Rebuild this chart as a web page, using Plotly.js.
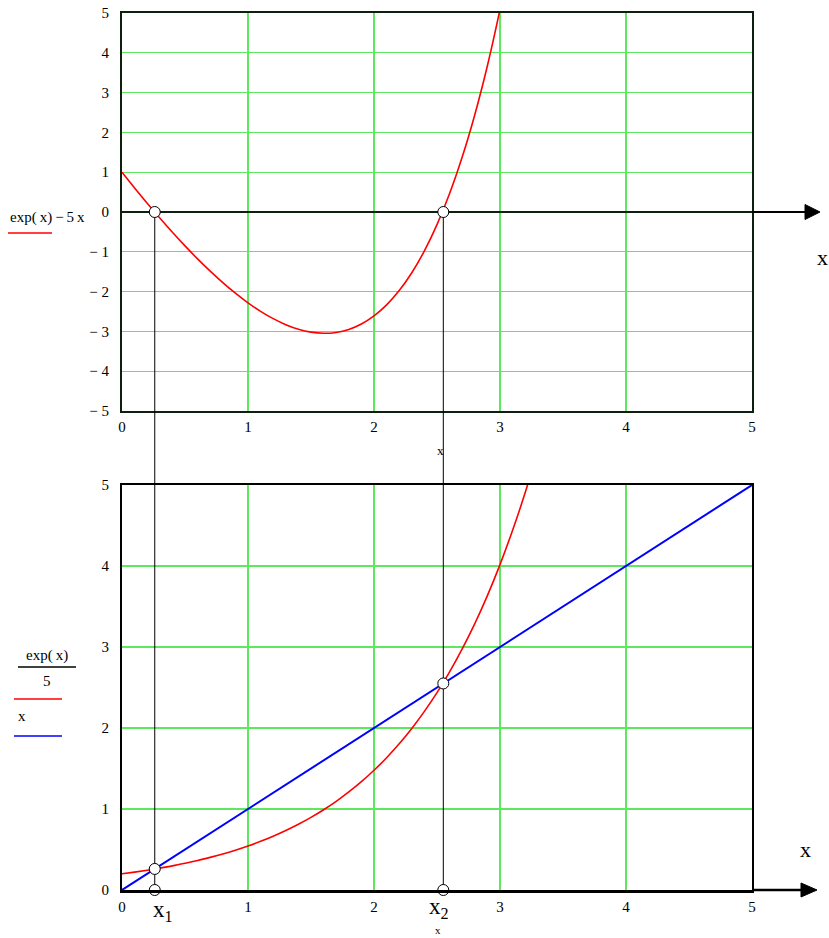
<!DOCTYPE html>
<html><head><meta charset="utf-8">
<script src="https://cdn.plot.ly/plotly-3.0.1.min.js"></script>
<style>html,body{margin:0;padding:0;background:#fff}#c{width:829px;height:938px}</style>
</head><body><div id="c"></div>
<script>
// sampled x values
const xs = [0,0.1,0.2,0.3,0.4,0.5,0.6,0.7,0.8,0.9,1.0,1.1,1.2,1.3,1.4,1.5,1.6,1.7,1.8,1.9,2.0,2.1,2.2,2.3,2.4,2.5,2.6,2.7,2.8,2.9,3.0];
// top panel: exp(x)-5x
const topVals = [1.0,0.605,0.221,-0.150,-0.508,-0.851,-1.178,-1.486,-1.774,-2.040,-2.282,-2.496,-2.680,-2.831,-2.945,-3.018,-3.047,-3.026,-2.950,-2.814,-2.611,-2.334,-1.975,-1.526,-0.977,-0.318,0.464,1.380,2.445,3.674,5.086];
// bottom panel: exp(x)/5
const xsBottom = [0,0.1,0.2,0.3,0.4,0.5,0.6,0.7,0.8,0.9,1.0,1.1,1.2,1.3,1.4,1.5,1.6,1.7,1.8,1.9,2.0,2.1,2.2,2.3,2.4,2.5,2.6,2.7,2.8,2.9,3.0,3.1,3.2,3.3];
const expOver5 = [0.2,0.221,0.244,0.270,0.298,0.330,0.364,0.403,0.445,0.492,0.544,0.601,0.664,0.734,0.811,0.896,0.991,1.095,1.210,1.337,1.478,1.633,1.805,1.995,2.205,2.436,2.693,2.976,3.289,3.635,4.017,4.440,4.907,5.423];
// bottom panel: y = x
const lineX = [0,5];
const lineY = [0,5];
// roots
const roots = [0.26,2.55];
const zeros = [0,0];
// tick labels
const yTopVals = [-5,-4,-3,-2,-1,0,1,2,3,4,5];
const yTopText = ['\u2212 5','\u2212 4','\u2212 3','\u2212 2','\u2212 1','0','1','2','3','4','5'];
const xTickVals = [0,1,2,3,4,5];
const xTickText = ['0','1','2','3','4','5'];
const yBotVals = [0,1,2,3,4,5];
const yBotText = ['0','1','2','3','4','5'];

const W = 829, H = 938;
const px = v => v / W;
const py = v => 1 - v / H;
const serif = 'Liberation Serif';
const green = '#5ee85e';
const frameTop = '#0d200d';

const traces = [];
// vertical guide lines (black)
roots.forEach(r => {
  traces.push({x:[r,r], y:[0,-5], xaxis:'x', yaxis:'y', mode:'lines', line:{color:'#000', width:1}, hoverinfo:'skip', showlegend:false, cliponaxis:false});
  traces.push({x:[r,r], y:[5,0], xaxis:'x2', yaxis:'y2', mode:'lines', line:{color:'#000', width:1}, hoverinfo:'skip', showlegend:false, cliponaxis:false});
});
traces.push({x:xs, y:topVals, xaxis:'x', yaxis:'y', mode:'lines', line:{color:'#ff0000', width:1.6, shape:'spline'}, showlegend:false});
traces.push({x:xsBottom, y:expOver5, xaxis:'x2', yaxis:'y2', mode:'lines', line:{color:'#ff0000', width:1.6, shape:'spline'}, showlegend:false});
traces.push({x:lineX, y:lineY, xaxis:'x2', yaxis:'y2', mode:'lines', line:{color:'#0000ff', width:2}, showlegend:false});
const mk = {symbol:'circle', size:11, color:'#fff', line:{color:'#000', width:1}};
traces.push({x:roots, y:zeros, xaxis:'x', yaxis:'y', mode:'markers', marker:mk, showlegend:false, cliponaxis:false});
traces.push({x:roots, y:roots, xaxis:'x2', yaxis:'y2', mode:'markers', marker:mk, showlegend:false, cliponaxis:false});
traces.push({x:roots, y:zeros, xaxis:'x2', yaxis:'y2', mode:'markers', marker:mk, showlegend:false, cliponaxis:false});

const tickFont = {family:serif, size:15, color:'#000'};
const axBase = {showgrid:true, gridcolor:green, gridwidth:1.2, showline:true, mirror:true, linewidth:2, zeroline:false, ticks:'outside', tickcolor:'rgba(0,0,0,0)', tickfont:tickFont, fixedrange:true};

const ann = (text, x, y, size) => ({text, x:px(x), y:py(y), xref:'paper', yref:'paper', xanchor:'center', yanchor:'middle', showarrow:false, font:{family:serif, size, color:'#000'}});

const layout = {
  width:W, height:H, margin:{l:0,r:0,t:0,b:0}, paper_bgcolor:'#fff', plot_bgcolor:'#fff',
  showlegend:false,
  xaxis: Object.assign({}, axBase, {domain:[px(122), px(752)], range:[0,5], anchor:'y', tickvals:xTickVals, ticktext:xTickText, ticklen:1, linecolor:frameTop}),
  yaxis: Object.assign({}, axBase, {domain:[py(411), py(13)], range:[-5,5], anchor:'x', tickvals:yTopVals, ticktext:yTopText, ticklen:8, linecolor:frameTop, zeroline:true, zerolinecolor:frameTop, zerolinewidth:2}),
  xaxis2: Object.assign({}, axBase, {domain:[px(122), px(752)], range:[0,5], anchor:'y2', tickvals:xTickVals, ticktext:xTickText, ticklen:1, linecolor:'#000', linewidth:2.5}),
  yaxis2: Object.assign({}, axBase, {domain:[py(890), py(485)], range:[0,5], anchor:'x2', tickvals:yBotVals, ticktext:yBotText, ticklen:8, linecolor:'#000'}),
  shapes: [
    // guide lines in the gap between panels
    ...roots.map(r => ({type:'line', xref:'x', yref:'paper', x0:r, x1:r, y0:py(485), y1:py(411), line:{color:'#000', width:1}})),
    // top arrow
    {type:'line', xref:'paper', yref:'paper', x0:px(752), x1:px(806), y0:py(212), y1:py(212), line:{color:'#000', width:2}},
    {type:'path', xref:'paper', yref:'paper', path:`M ${px(805)} ${py(204.5)} L ${px(820)} ${py(212)} L ${px(805)} ${py(219.5)} Z`, fillcolor:'#000', line:{color:'#000', width:1}},
    // bottom arrow
    {type:'line', xref:'paper', yref:'paper', x0:px(752), x1:px(802), y0:py(890), y1:py(890), line:{color:'#000', width:2.5}},
    {type:'path', xref:'paper', yref:'paper', path:`M ${px(801)} ${py(883)} L ${px(817)} ${py(890)} L ${px(801)} ${py(897)} Z`, fillcolor:'#000', line:{color:'#000', width:1}},
    // legend swatches
    {type:'line', xref:'paper', yref:'paper', x0:px(8), x1:px(52), y0:py(233), y1:py(233), line:{color:'#ff0000', width:1.5}},
    {type:'line', xref:'paper', yref:'paper', x0:px(18), x1:px(76), y0:py(667), y1:py(667), line:{color:'#000', width:1.5}},
    {type:'line', xref:'paper', yref:'paper', x0:px(14), x1:px(62), y0:py(699), y1:py(699), line:{color:'#ff0000', width:1.5}},
    {type:'line', xref:'paper', yref:'paper', x0:px(14), x1:px(62), y0:py(736), y1:py(736), line:{color:'#0000ff', width:1.5}}
  ],
  annotations: [
    ann('exp(\u2009x)\u2009\u2212\u20095\u2009x', 47, 217, 15),
    ann('exp(\u2009x)', 47, 655, 15),
    ann('5', 47, 681, 15),
    ann('x', 22, 716, 15),
    ann('x', 822, 257, 22),
    ann('x', 805, 849, 22),
    ann('x', 440, 450, 13),
    ann('x<sub>1</sub>', 163, 911, 23),
    ann('x<sub>2</sub>', 439, 908, 23),
    ann('x', 438, 930, 11)
  ]
};
Plotly.newPlot('c', traces, layout, {staticPlot:true, displayModeBar:false});
</script></body></html>
